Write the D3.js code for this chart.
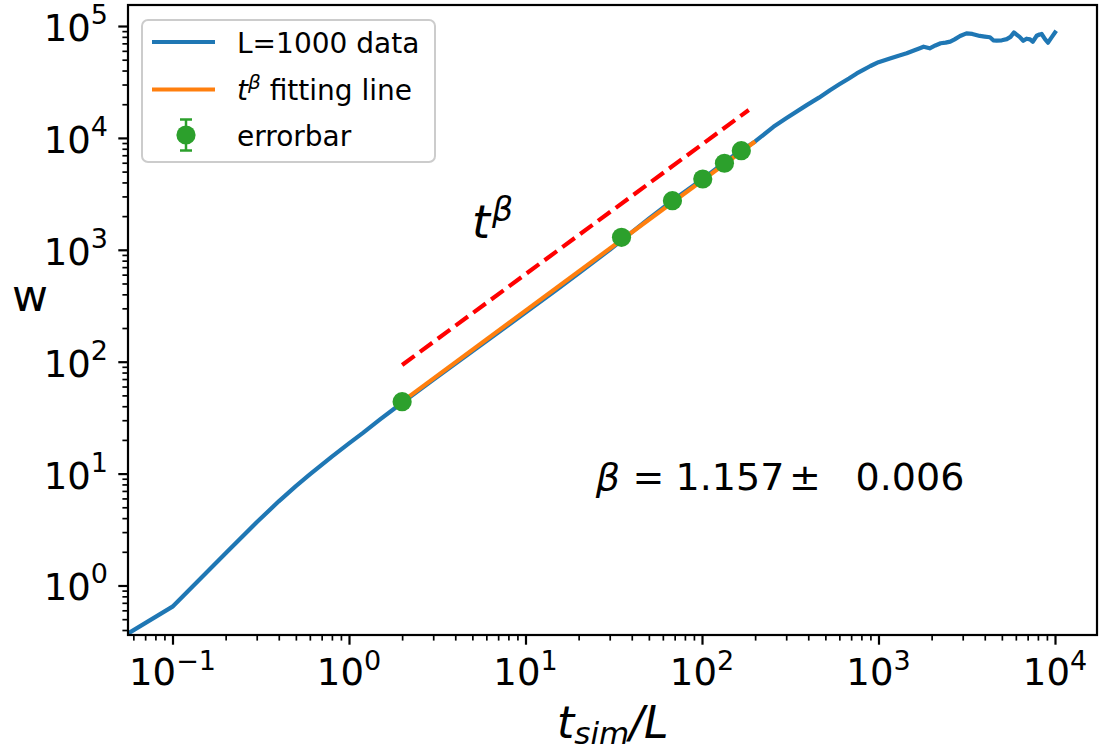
<!DOCTYPE html>
<html>
<head>
<meta charset="utf-8">
<script src="https://cdn.jsdelivr.net/npm/d3@7"></script>
<style>
  html, body { margin: 0; padding: 0; background: #fff; }
  svg { display: block; }
  text { font-family: "DejaVu Sans", sans-serif; fill: #000; }
</style>
</head>
<body>
<svg id="chart" width="1099" height="753"></svg>
<script>
// ---- data ----
const dataT = [0.0560, 0.1, 0.2, 0.3, 0.4, 0.5, 0.6, 0.8, 1.0, 1.2, 1.5, 2, 3, 5, 7, 10, 15, 20, 30, 50, 70, 100, 150, 200,
  254, 300, 392, 460, 531, 600, 680, 753, 830, 900, 1000, 1161, 1300, 1445, 1600, 1700, 1800, 1950, 2100, 2250, 2400, 2550, 2700, 2900,
  3150, 3400, 3750, 4000, 4280, 4470, 4670, 5000, 5330, 5600, 5850, 6300, 6610, 6900, 7220, 7480, 7880, 8170, 8400,
  8800, 9130, 9500, 10000];
const dataW = [0.372, 0.647, 1.94, 3.67, 5.65, 7.72, 9.84, 14.2, 18.6, 23.1, 30.5, 43, 69, 124, 182, 275, 440, 617, 1000,
  1900, 2850, 4250, 6900, 9300,
  12570, 14970, 19630, 22900, 26700, 30150, 34000, 37700, 40900, 43900, 47500, 51300, 54300, 57000, 60700, 63000, 65300, 63200, 67000, 70100,
  71000, 72500, 76000, 81500, 86000, 85000, 81500, 80500, 79400, 74500, 74100, 74500, 76300, 80000, 87500, 80000, 73800,
  77000, 76000, 72300, 81800, 84000, 84900, 76000, 71000, 78000, 87500];

const fitT = [2, 200];
const fitW = [44, 9300];

const guideT = [2, 184];
const guideW = [93.5, 17750];

const errT = [2, 35, 68, 101, 134, 167];
const errW = [43.9, 1294, 2748, 4295, 5934, 7690];
const errE = [0.4, 10, 20, 30, 40, 50];

const xMajor = [0.1, 1, 10, 100, 1000, 10000];
const xMajorExp = ["\u22121", "0", "1", "2", "3", "4"];
const yMajor = [1, 10, 100, 1000, 10000, 100000];
const yMajorExp = ["0", "1", "2", "3", "4", "5"];

const legendLabels = ["L=1000 data", "fitting line", "errorbar"];
const betaText = ["1.157", "0.006"];

// ---- layout ----
const L = 128, R = 1097, T = 5, B = 635;
const svg = d3.select("#chart");

const x = d3.scaleLog().domain([0.05596, 17298]).range([L, R]);
const y = d3.scaleLog().domain([0.361, 154100]).range([B, T]);

const colors = { blue: "#1f77b4", orange: "#ff7f0e", green: "#2ca02c", red: "#ff0000" };

function minors(domain) {
  const out = [];
  for (let e = -3; e <= 6; e++) {
    for (let m = 2; m <= 9; m++) {
      const v = m * Math.pow(10, e);
      if (v >= domain[0] && v <= domain[1]) out.push(v);
    }
  }
  return out;
}

svg.append("defs").append("clipPath").attr("id", "clip")
  .append("rect").attr("x", L).attr("y", T).attr("width", R - L).attr("height", B - T);

const plot = svg.append("g").attr("clip-path", "url(#clip)");
const line = d3.line().x(d => x(d[0])).y(d => y(d[1]));

plot.append("path")
  .datum(dataT.map((t, i) => [t, dataW[i]]))
  .attr("d", line)
  .attr("fill", "none").attr("stroke", colors.blue).attr("stroke-width", 4.2)
  .attr("stroke-linejoin", "round").attr("stroke-linecap", "square");

plot.append("path")
  .datum(fitT.map((t, i) => [t, fitW[i]]))
  .attr("d", line)
  .attr("fill", "none").attr("stroke", colors.orange).attr("stroke-width", 4.2);

plot.append("path")
  .datum(guideT.map((t, i) => [t, guideW[i]]))
  .attr("d", line)
  .attr("fill", "none").attr("stroke", colors.red).attr("stroke-width", 4.2)
  .attr("stroke-dasharray", "15.4,6.7");

const eg = plot.append("g");
errT.forEach((t, i) => {
  eg.append("line")
    .attr("x1", x(t)).attr("x2", x(t))
    .attr("y1", y(errW[i] - errE[i])).attr("y2", y(errW[i] + errE[i]))
    .attr("stroke", colors.green).attr("stroke-width", 2.5);
  eg.append("circle")
    .attr("cx", x(t)).attr("cy", y(errW[i])).attr("r", 9.6)
    .attr("fill", colors.green);
});

const xMinorAxis = d3.axisBottom(x).tickValues(minors(x.domain())).tickSize(5.6).tickFormat("");
const xMajorAxis = d3.axisBottom(x).tickValues(xMajor).tickSize(9.7).tickFormat("");
const yMinorAxis = d3.axisLeft(y).tickValues(minors(y.domain())).tickSize(5.6).tickFormat("");
const yMajorAxis = d3.axisLeft(y).tickValues(yMajor).tickSize(9.7).tickFormat("");

function styleAxis(g, w) {
  g.select(".domain").remove();
  g.selectAll(".tick line").attr("stroke", "#000").attr("stroke-width", w);
}
svg.append("g").attr("transform", `translate(0,${B})`).call(xMinorAxis).call(g => styleAxis(g, 1.7));
svg.append("g").attr("transform", `translate(0,${B})`).call(xMajorAxis).call(g => styleAxis(g, 2.2));
svg.append("g").attr("transform", `translate(${L},0)`).call(yMinorAxis).call(g => styleAxis(g, 1.7));
svg.append("g").attr("transform", `translate(${L},0)`).call(yMajorAxis).call(g => styleAxis(g, 2.2));

const tickFont = 37, supFont = 27;
xMajor.forEach((v, i) => {
  const t = svg.append("text")
    .attr("x", x(v)).attr("y", 685)
    .attr("text-anchor", "middle")
    .style("font-size", tickFont + "px");
  t.append("tspan").text("10");
  t.append("tspan").attr("dy", -15).style("font-size", supFont + "px").text(xMajorExp[i]);
});
yMajor.forEach((v, i) => {
  const t = svg.append("text")
    .attr("x", 108).attr("y", y(v) + 15)
    .attr("text-anchor", "end")
    .style("font-size", tickFont + "px");
  t.append("tspan").text("10");
  t.append("tspan").attr("dy", -17).style("font-size", supFont + "px").text(yMajorExp[i]);
});

svg.append("rect")
  .attr("x", L).attr("y", T).attr("width", R - L).attr("height", B - T)
  .attr("fill", "none").attr("stroke", "#000").attr("stroke-width", 2.2);

const xl = svg.append("text").attr("x", 557).attr("y", 738).style("font-size", "44px");
xl.append("tspan").style("font-style", "italic").text("t");
xl.append("tspan").attr("dy", 6).style("font-style", "italic").style("font-size", "31px").text("sim");
xl.append("tspan").attr("dy", -6).style("font-style", "italic").text("/L");

svg.append("text").attr("x", 30).attr("y", 311).attr("text-anchor", "middle")
  .style("font-size", "44px").text("w");

const tb = svg.append("text").attr("x", 472).attr("y", 238).style("font-size", "46px");
tb.append("tspan").style("font-style", "italic").text("t");
tb.append("tspan").attr("dy", -17).attr("dx", 2).style("font-style", "italic").style("font-size", "33px").text("\u03b2");

const bY = 490, bF = "38px";
svg.append("text").attr("x", 608).attr("y", bY).attr("text-anchor", "middle")
  .style("font-size", bF).style("font-style", "italic").text("\u03b2");
svg.append("text").attr("x", 648.5).attr("y", bY).attr("text-anchor", "middle")
  .style("font-size", bF).text("=");
svg.append("text").attr("x", 730).attr("y", bY).attr("text-anchor", "middle")
  .style("font-size", bF).text(betaText[0]);
svg.append("text").attr("x", 805).attr("y", bY).attr("text-anchor", "middle")
  .style("font-size", bF).text("\u00b1");
svg.append("text").attr("x", 910).attr("y", bY).attr("text-anchor", "middle")
  .style("font-size", bF).text(betaText[1]);

const lg = svg.append("g");
lg.append("rect").attr("x", 142).attr("y", 20).attr("width", 293).attr("height", 142)
  .attr("rx", 6).attr("ry", 6)
  .attr("fill", "#fff").attr("fill-opacity", 0.8)
  .attr("stroke", "#cccccc").attr("stroke-width", 2);
const rows = [42, 89.5, 135];
lg.append("line").attr("x1", 152).attr("x2", 215).attr("y1", rows[0]).attr("y2", rows[0])
  .attr("stroke", colors.blue).attr("stroke-width", 4.2);
lg.append("line").attr("x1", 152).attr("x2", 215).attr("y1", rows[1]).attr("y2", rows[1])
  .attr("stroke", colors.orange).attr("stroke-width", 4.2);
lg.append("line").attr("x1", 186).attr("x2", 186).attr("y1", rows[2] - 15.5).attr("y2", rows[2] + 15.5)
  .attr("stroke", colors.green).attr("stroke-width", 2.5);
[rows[2] - 15.5, rows[2] + 15.5].forEach(cy => {
  lg.append("line").attr("x1", 180).attr("x2", 192).attr("y1", cy).attr("y2", cy)
    .attr("stroke", colors.green).attr("stroke-width", 2.5);
});
lg.append("circle").attr("cx", 186).attr("cy", rows[2]).attr("r", 9.6).attr("fill", colors.green);

const legFont = "28px";
lg.append("text").attr("x", 237).attr("y", rows[0] + 10.5).style("font-size", legFont).text(legendLabels[0]);
const l2 = lg.append("text").attr("x", 237).attr("y", rows[1] + 10.5).style("font-size", legFont);
l2.append("tspan").style("font-style", "italic").text("t");
l2.append("tspan").attr("dy", -11).style("font-style", "italic").style("font-size", "20px").text("\u03b2");
l2.append("tspan").attr("dy", 11).text(" " + legendLabels[1]);
lg.append("text").attr("x", 237).attr("y", rows[2] + 10.5).style("font-size", legFont).text(legendLabels[2]);
</script>
</body>
</html>
